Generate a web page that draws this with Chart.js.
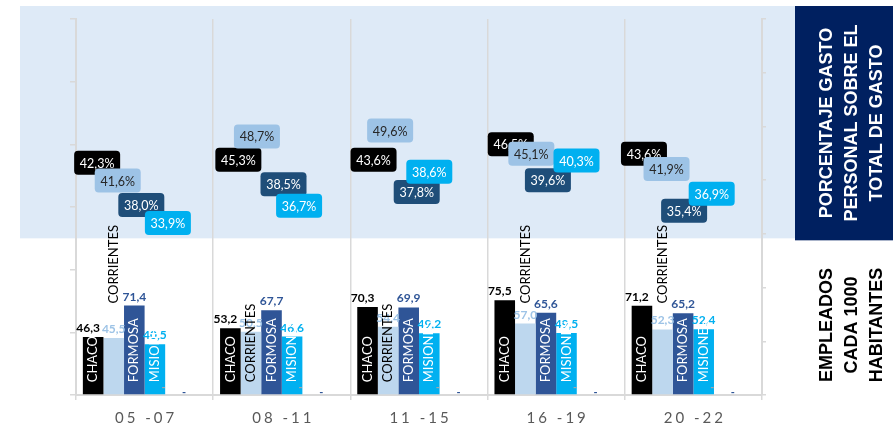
<!DOCTYPE html>
<html lang="es">
<head>
<meta charset="UTF-8">
<title>Gasto en personal y empleados públicos</title>
<script src="https://cdn.jsdelivr.net/npm/chart.js"></script>
<style>
  body { margin: 0; background: #fff; }
  canvas { display: block; }
</style>
</head>
<body>
<canvas id="grafico" width="893" height="424"></canvas>
<script>
// periodos (eje x)
const periodos = ['05 -07', '08 -11', '11 -15', '16 -19', '20 -22'];
const provincias = ['CHACO', 'CORRIENTES', 'FORMOSA', 'MISIONES'];

// porcentaje gasto personal sobre el total de gasto (eje derecho)
const gastoChaco = [42.3, 45.3, 43.6, 46.5, 43.6];
const gastoCorrientes = [41.6, 48.7, 49.6, 45.1, 41.9];
const gastoFormosa = [38.0, 38.5, 37.8, 39.6, 35.4];
const gastoMisiones = [33.9, 36.7, 38.6, 40.3, 36.9];

// empleados cada 1000 habitantes (eje izquierdo)
const empChaco = [46.3, 53.2, 70.3, 75.5, 71.2];
const empCorrientes = [45.5, 50.5, 54.4, 57.0, 52.3];
const empFormosa = [71.4, 67.7, 69.9, 65.6, 65.2];
const empMisiones = [40.5, 46.6, 49.2, 49.5, 52.4];
const empSinDatoA = [0, 0, 0, 0, 0];
const empSinDatoB = [0, 0, 0, 0, 0];

const FUENTE = 'Lato, "Noto Sans", sans-serif';
const colBarra = ['#000000', '#bdd7ee', '#2f5597', '#00b0f0'];
const colValor = ['#000000', '#9dc3e6', '#2f5597', '#00b0f0'];
const colCaja = ['#000000', '#9dc3e6', '#1f4e79', '#00b0f0'];
const colTextoCaja = ['#ffffff', '#262626', '#ffffff', '#ffffff'];
const colNombre = ['#ffffff', '#000000', '#ffffff', '#ffffff'];
// las cajas de % fueron movidas a mano en el original: corrimiento en px
const cajaDx = [[4, 8, 6, 6, 2], [4, 6, 2, 6, 4], [7, 12, 8, 2, 1], [13, 7, 0, 10, 8]];
const cajaDy = [[-5, 8, -1, -1, -7], [9, 3, 2, 1, -1], [14, -4, 0, -2, 6], [10, 8, -16, -18, -3]];
// donde va el nombre CORRIENTES en cada periodo (arriba de la barra o dentro)
const corrientesArriba = [true, false, false, true, true];

const fmt = v => v.toFixed(1).replace('.', ',');

const empSeries = [empChaco, empCorrientes, empFormosa, empMisiones];
const gastoSeries = [gastoChaco, gastoCorrientes, gastoFormosa, gastoMisiones];

const datasets = [];
empSeries.forEach((d, i) => datasets.push({
  label: provincias[i], data: d, backgroundColor: colBarra[i],
  yAxisID: 'y', stack: provincias[i], tipo: 'emp', idx: i
}));
datasets.push({ label: 'resto A', data: empSinDatoA, backgroundColor: '#a6a6a6',
  yAxisID: 'y', stack: 'restoA', tipo: 'guion', colGuion: '#a6a6a6', dy: -8 });
datasets.push({ label: 'resto B', data: empSinDatoB, backgroundColor: '#2f5597',
  yAxisID: 'y', stack: 'restoB', tipo: 'guion', colGuion: '#2f5597', dy: -3 });
gastoSeries.forEach((d, i) => datasets.push({
  label: provincias[i] + ' %', data: d, backgroundColor: 'rgba(0,0,0,0)',
  yAxisID: 'y1', stack: provincias[i], tipo: 'pct', idx: i
}));

const fondo = {
  id: 'fondo',
  beforeDraw(chart) {
    const { ctx, chartArea: a, scales: { y } } = chart;
    const top = a.top - 13;
    const bandaAbajo = y.getPixelForValue(125);
    ctx.save();
    ctx.fillStyle = '#deeaf7';
    ctx.fillRect(a.left - 56, top, (a.right + 33) - (a.left - 56), bandaAbajo - top);
    ctx.fillStyle = '#002060';
    ctx.fillRect(a.right + 33, top, chart.width - (a.right + 33), bandaAbajo + 2 - top);
    ctx.restore();
  }
};

function rectRedondo(ctx, x, y, w, h, r) {
  ctx.beginPath();
  ctx.moveTo(x + r, y);
  ctx.arcTo(x + w, y, x + w, y + h, r);
  ctx.arcTo(x + w, y + h, x, y + h, r);
  ctx.arcTo(x, y + h, x, y, r);
  ctx.arcTo(x, y, x + w, y, r);
  ctx.closePath();
}

const etiquetas = {
  id: 'etiquetas',
  afterDatasetsDraw(chart) {
    const { ctx, scales: { y } } = chart;
    ctx.save();
    chart.data.datasets.forEach((ds, di) => {
      const meta = chart.getDatasetMeta(di);
      if (ds.tipo === 'emp') {
        meta.data.forEach((el, j) => {
          ctx.font = 'bold 12px ' + FUENTE;
          ctx.fillStyle = colValor[ds.idx];
          ctx.textAlign = 'center';
          ctx.textBaseline = 'alphabetic';
          ctx.fillText(fmt(ds.data[j]), el.x + (ds.idx === 0 ? -5 : 0), el.y - 5);
        });
      } else if (ds.tipo === 'guion') {
        meta.data.forEach(el => {
          ctx.font = 'bold 11px ' + FUENTE;
          ctx.fillStyle = ds.colGuion;
          ctx.textAlign = 'center';
          ctx.textBaseline = 'middle';
          ctx.fillText('-', el.x - 12, el.y + ds.dy);
        });
      }
    });
    // nombres de provincia en vertical
    const arribaBase = y.getPixelForValue(73);
    chart.data.datasets.forEach((ds, di) => {
      if (ds.tipo !== 'emp') return;
      chart.getDatasetMeta(di).data.forEach((el, j) => {
        ctx.save();
        const arriba = ds.idx === 1 && corrientesArriba[j];
        ctx.translate(el.x, arriba ? Math.min(arribaBase, el.y - 20) : el.base - 12);
        ctx.rotate(-Math.PI / 2);
        ctx.font = '13px ' + FUENTE;
        ctx.fillStyle = colNombre[ds.idx];
        ctx.textAlign = 'left';
        ctx.textBaseline = 'middle';
        ctx.fillText(provincias[ds.idx], 0, 0);
        ctx.restore();
      });
    });
    // cajas con el porcentaje
    chart.data.datasets.forEach((ds, di) => {
      if (ds.tipo !== 'pct') return;
      chart.getDatasetMeta(di).data.forEach((el, j) => {
        const w = 46, h = 24;
        const cx = el.x + cajaDx[ds.idx][j], cy = el.y + cajaDy[ds.idx][j];
        ctx.fillStyle = colCaja[ds.idx];
        rectRedondo(ctx, cx - w / 2, cy - h / 2, w, h, 4);
        ctx.fill();
        ctx.font = '12.5px ' + FUENTE;
        ctx.fillStyle = colTextoCaja[ds.idx];
        ctx.textAlign = 'center';
        ctx.textBaseline = 'middle';
        ctx.fillText(fmt(ds.data[j]) + '%', cx, cy + 1);
      });
    });
    ctx.restore();
  },
  afterDraw(chart) {
    const { ctx, chartArea: a, scales: { x } } = chart;
    ctx.save();
    // periodos
    ctx.font = '15px ' + FUENTE;
    ctx.fillStyle = '#595959';
    ctx.textAlign = 'center';
    ctx.textBaseline = 'alphabetic';
    ctx.letterSpacing = '3px';
    periodos.forEach((p, i) => ctx.fillText(p, x.getPixelForValue(i) + 1.5, a.bottom + 28));
    ctx.letterSpacing = '0px';
    // titulos laterales
    const bloque = (lineas, cy, color) => {
      ctx.save();
      ctx.translate(a.right + 90, cy);
      ctx.rotate(-Math.PI / 2);
      ctx.font = 'bold 18px "Liberation Sans", Arial, sans-serif';
      ctx.fillStyle = color;
      ctx.textAlign = 'center';
      ctx.textBaseline = 'middle';
      lineas.forEach((t, k) => ctx.fillText(t, 0, (k - 1) * 25));
      ctx.restore();
    };
    bloque(['PORCENTAJE GASTO', 'PERSONAL SOBRE EL', 'TOTAL DE GASTO'], a.top + 104, '#ffffff');
    bloque(['EMPLEADOS', 'CADA 1000', 'HABITANTES'], a.top + 306, '#000000');
    ctx.restore();
  }
};

new Chart(document.getElementById('grafico'), {
  type: 'bar',
  data: { labels: periodos, datasets: datasets },
  options: {
    responsive: false,
    animation: false,
    devicePixelRatio: 1,
    categoryPercentage: 0.9,
    barPercentage: 1,
    layout: { padding: { left: 70, right: 127, top: 19, bottom: 24 } },
    plugins: { legend: { display: false }, tooltip: { enabled: false } },
    scales: {
      x: {
        grid: { color: '#d9d9d9', lineWidth: 1.5, offset: true, tickLength: 5 },
        border: { color: '#d9d9d9', width: 2 },
        ticks: { display: false }
      },
      y: {
        min: 0, max: 300, stacked: false,
        ticks: { display: false, stepSize: 50 },
        grid: { drawOnChartArea: false, tickLength: 6, color: '#d9d9d9', lineWidth: 1.5 },
        border: { color: '#d9d9d9', width: 2 }
      },
      y1: {
        position: 'right', min: 0, max: 70, stacked: false,
        ticks: { display: false, stepSize: 10 },
        grid: { drawOnChartArea: false, tickLength: 4, color: '#d9d9d9', lineWidth: 1.5 },
        border: { color: '#d9d9d9', width: 2 }
      }
    }
  },
  plugins: [fondo, etiquetas]
});
</script>
</body>
</html>
